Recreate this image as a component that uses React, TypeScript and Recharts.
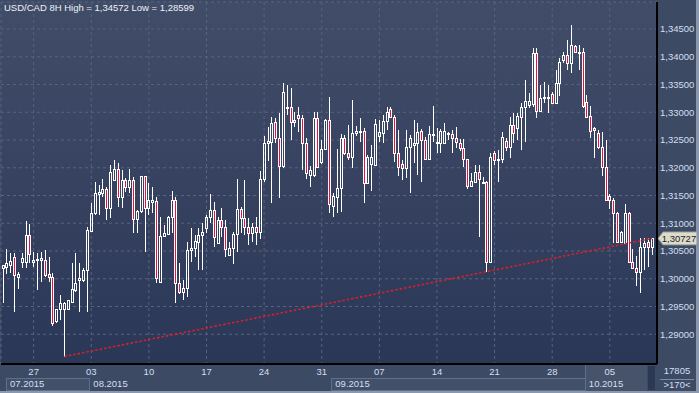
import React from 'react';
import { ComposedChart, Bar, XAxis, YAxis, CartesianGrid, ReferenceLine } from 'recharts';

// ---- data (8H candles, USD/CAD) ----
const opens = [
  1.3020, 1.3022, 1.3024, 1.3040, 1.3004, 1.3031, 1.3031, 1.3079, 1.3031, 1.3033,
  1.3034, 1.3034, 1.3009, 1.3003, 1.2923, 1.2945, 1.2945, 1.2945, 1.2959, 1.2980,
  1.2998, 1.2997, 1.3016, 1.3086, 1.3118, 1.3153, 1.3154, 1.3161, 1.3127, 1.3178,
  1.3197, 1.3148, 1.3178, 1.3165, 1.3178, 1.3107, 1.3122, 1.3185, 1.3127, 1.3139,
  1.3140, 1.2994, 1.3077, 1.3081, 1.3112, 1.3142, 1.2993, 1.2977, 1.2984, 1.3051,
  1.3055, 1.3067, 1.3078, 1.3091, 1.3111, 1.3123, 1.3064, 1.3106, 1.3093, 1.3043,
  1.3055, 1.3080, 1.3125, 1.3109, 1.3094, 1.3083, 1.3093, 1.3085, 1.3179, 1.3244,
  1.3247, 1.3283, 1.3253, 1.3203, 1.3310, 1.3309, 1.3282, 1.3295, 1.3289, 1.3244,
  1.3187, 1.3187, 1.3289, 1.3211, 1.3233, 1.3286, 1.3132, 1.3148, 1.3163, 1.3253,
  1.3226, 1.3219, 1.3263, 1.3265, 1.3266, 1.3172, 1.3207, 1.3205, 1.3257, 1.3263,
  1.3284, 1.3305, 1.3292, 1.3226, 1.3207, 1.3199, 1.3238, 1.3241, 1.3245, 1.3266,
  1.3250, 1.3216, 1.3259, 1.3244, 1.3244, 1.3245, 1.3261, 1.3261, 1.3253, 1.3245,
  1.3235, 1.3215, 1.3168, 1.3175, 1.3192, 1.3175, 1.3174, 1.3031, 1.3227, 1.3214,
  1.3215, 1.3249, 1.3237, 1.3277, 1.3271, 1.3291, 1.3309, 1.3314, 1.3315, 1.3406,
  1.3303, 1.3325, 1.3327, 1.3333, 1.3317, 1.3352, 1.3395, 1.3404, 1.3389, 1.3419,
  1.3408, 1.3408, 1.3318, 1.3293, 1.3271, 1.3262, 1.3238, 1.3202, 1.3149, 1.3142,
  1.3119, 1.3067, 1.3065, 1.3119, 1.3031, 1.3019, 1.3013, 1.3058, 1.3067, 1.3058,
];
const highs = [
  1.3025, 1.3053, 1.3047, 1.3046, 1.3012, 1.3047, 1.3104, 1.3099, 1.3049, 1.3046,
  1.3049, 1.3052, 1.3040, 1.3010, 1.2945, 1.2970, 1.2958, 1.2962, 1.3028, 1.3046,
  1.3028, 1.3019, 1.3094, 1.3136, 1.3175, 1.3169, 1.3179, 1.3166, 1.3205, 1.3214,
  1.3208, 1.3196, 1.3181, 1.3198, 1.3184, 1.3124, 1.3186, 1.3186, 1.3172, 1.3166,
  1.3148, 1.3112, 1.3097, 1.3113, 1.3159, 1.3148, 1.3028, 1.2998, 1.3067, 1.3091,
  1.3079, 1.3091, 1.3100, 1.3115, 1.3153, 1.3139, 1.3112, 1.3127, 1.3106, 1.3067,
  1.3085, 1.3179, 1.3130, 1.3178, 1.3109, 1.3100, 1.3112, 1.3194, 1.3257, 1.3274,
  1.3292, 1.3289, 1.3299, 1.3352, 1.3349, 1.3343, 1.3301, 1.3310, 1.3295, 1.3253,
  1.3203, 1.3301, 1.3301, 1.3250, 1.3287, 1.3328, 1.3155, 1.3233, 1.3261, 1.3259,
  1.3277, 1.3323, 1.3276, 1.3289, 1.3271, 1.3223, 1.3241, 1.3287, 1.3286, 1.3295,
  1.3310, 1.3310, 1.3295, 1.3268, 1.3214, 1.3268, 1.3259, 1.3286, 1.3281, 1.3269,
  1.3256, 1.3275, 1.3311, 1.3271, 1.3269, 1.3281, 1.3265, 1.3268, 1.3274, 1.3251,
  1.3251, 1.3216, 1.3190, 1.3205, 1.3205, 1.3184, 1.3177, 1.3226, 1.3231, 1.3232,
  1.3265, 1.3253, 1.3292, 1.3299, 1.3299, 1.3316, 1.3358, 1.3334, 1.3415, 1.3415,
  1.3349, 1.3355, 1.3349, 1.3337, 1.3377, 1.3397, 1.3409, 1.3430, 1.34572, 1.3422,
  1.3421, 1.3415, 1.3331, 1.3311, 1.3274, 1.3268, 1.3265, 1.3250, 1.3153, 1.3145,
  1.3120, 1.3086, 1.3135, 1.3121, 1.3053, 1.3041, 1.3073, 1.3073, 1.3073, 1.3074,
];
const lows = [
  1.2956, 1.3009, 1.3011, 1.2941, 1.2981, 1.3019, 1.3019, 1.3028, 1.3022, 1.2980,
  1.2995, 1.3004, 1.2995, 1.2914, 1.2920, 1.2926, 1.28599, 1.2944, 1.2957, 1.2977,
  1.2941, 1.2995, 1.2941, 1.3085, 1.3115, 1.3115, 1.3148, 1.3106, 1.3109, 1.3178,
  1.3130, 1.3127, 1.3157, 1.3154, 1.3082, 1.3082, 1.3118, 1.3049, 1.3115, 1.3118,
  1.2992, 1.2993, 1.3076, 1.3080, 1.3082, 1.2956, 1.2973, 1.2962, 1.2968, 1.3031,
  1.3040, 1.3016, 1.3016, 1.3082, 1.3101, 1.3058, 1.3063, 1.3076, 1.3040, 1.3042,
  1.3027, 1.3049, 1.3082, 1.3079, 1.3060, 1.3067, 1.3060, 1.3071, 1.3175, 1.3213,
  1.3136, 1.3244, 1.3145, 1.3199, 1.3295, 1.3250, 1.3274, 1.3265, 1.3196, 1.3179,
  1.3166, 1.3183, 1.3199, 1.3207, 1.3232, 1.3118, 1.3111, 1.3118, 1.3121, 1.3223,
  1.3214, 1.3199, 1.3257, 1.3247, 1.3136, 1.3171, 1.3159, 1.3204, 1.3247, 1.3244,
  1.3268, 1.3289, 1.3211, 1.3185, 1.3178, 1.3181, 1.3155, 1.3208, 1.3187, 1.3175,
  1.3214, 1.3215, 1.3247, 1.3226, 1.3226, 1.3244, 1.3250, 1.3226, 1.3235, 1.3231,
  1.3202, 1.3161, 1.3167, 1.3172, 1.3075, 1.3172, 1.3013, 1.3028, 1.3205, 1.3175,
  1.3209, 1.3231, 1.3218, 1.3244, 1.3250, 1.3232, 1.3247, 1.3307, 1.3309, 1.3290,
  1.3302, 1.3316, 1.3298, 1.3316, 1.3316, 1.3329, 1.3388, 1.3376, 1.3370, 1.3406,
  1.3377, 1.3307, 1.3289, 1.3253, 1.3217, 1.3233, 1.3185, 1.3141, 1.3125, 1.3065,
  1.3064, 1.3066, 1.3064, 1.3028, 1.3017, 1.2987, 1.2974, 1.3015, 1.3022, 1.3043,
];
const closes = [
  1.3024, 1.3028, 1.3032, 1.3006, 1.3009, 1.3038, 1.3079, 1.3044, 1.3034, 1.3036,
  1.3037, 1.3007, 1.3003, 1.2921, 1.2945, 1.2956, 1.2956, 1.2961, 1.2981, 1.2992,
  1.3002, 1.3016, 1.3088, 1.3118, 1.3154, 1.3156, 1.3161, 1.3127, 1.3192, 1.3197,
  1.3148, 1.3178, 1.3165, 1.3178, 1.3107, 1.3122, 1.3185, 1.3127, 1.3142, 1.3142,
  1.3001, 1.3077, 1.3082, 1.3112, 1.3142, 1.2993, 1.2976, 1.2984, 1.3052, 1.3055,
  1.3068, 1.3079, 1.3085, 1.3111, 1.3123, 1.3075, 1.3106, 1.3093, 1.3053, 1.3055,
  1.3081, 1.3125, 1.3109, 1.3094, 1.3083, 1.3093, 1.3085, 1.3179, 1.3244, 1.3248,
  1.3280, 1.3253, 1.3203, 1.3336, 1.3307, 1.3282, 1.3286, 1.3289, 1.3244, 1.3190,
  1.3196, 1.3289, 1.3201, 1.3233, 1.3286, 1.3134, 1.3149, 1.3163, 1.3253, 1.3226,
  1.3219, 1.3263, 1.3266, 1.3266, 1.3172, 1.3219, 1.3219, 1.3279, 1.3264, 1.3285,
  1.3301, 1.3292, 1.3226, 1.3202, 1.3199, 1.3238, 1.3253, 1.3245, 1.3265, 1.3250,
  1.3216, 1.3261, 1.3261, 1.3246, 1.3267, 1.3267, 1.3262, 1.3253, 1.3246, 1.3235,
  1.3215, 1.3168, 1.3177, 1.3192, 1.3179, 1.3174, 1.3031, 1.3220, 1.3214, 1.3215,
  1.3255, 1.3237, 1.3277, 1.3263, 1.3293, 1.3310, 1.3321, 1.3321, 1.3406, 1.3303,
  1.3325, 1.3327, 1.3326, 1.3317, 1.3352, 1.3391, 1.3404, 1.3389, 1.3421, 1.3409,
  1.3409, 1.3312, 1.3292, 1.3267, 1.3268, 1.3237, 1.3202, 1.3142, 1.3142, 1.3119,
  1.3067, 1.3085, 1.3118, 1.3031, 1.3019, 1.3013, 1.3058, 1.3065, 1.3058, 1.30727,
];

const weekTickIndex = [8, 23, 38, 53, 68, 83, 98, 113, 128, 143, 158];
const weekTickLabels = ['27', '03', '10', '17', '24', '31', '07', '14', '21', '28', '05'];
const monthStartIndex = [0, 23, 86, 152];
const monthLabels = ['07.2015', '08.2015', '09.2015', '10.2015'];
const priceTicks = [1.29, 1.295, 1.3, 1.305, 1.31, 1.315, 1.32, 1.325, 1.33, 1.335, 1.34, 1.345];
const priceDomain = [1.28464, 1.34987];

const symbolName = 'USD/CAD 8H';
const periodHigh = 1.34572;
const periodLow = 1.28599;
const lastPrice = 1.30727;
const trendStart = { index: 16, price: 1.28599 };
const trendEnd = { index: 169, price: 1.30727 };
const totalBarsLabel = '17805';
const visibleBarsLabel = '>170<';

const data = opens.map((o, i) => ({
  i,
  open: o,
  high: highs[i],
  low: lows[i],
  close: closes[i],
  range: [lows[i], highs[i]],
}));

// ---- styling ----
const FONT = '"Liberation Sans", Arial, sans-serif';
const TEXT = '#d3dff2';
const PLOT_W = 653; // plot width minus right padding, used for month boxes
const BAND = PLOT_W / opens.length;

const fmt = (v: number) => v.toFixed(5).replace('.', ',');

const Candle = (props: any) => {
  const { x, y, width, height, payload } = props;
  if (x == null || y == null || !payload) return null;
  const top = Math.min(y, y + height);
  const bot = Math.max(y, y + height);
  const { open, close, high, low } = payload;
  const span = high - low || 1;
  const py = (v: number) => top + ((high - v) / span) * (bot - top);
  const c = Math.round(x + width / 2 - 0.5);
  const lx = c + 0.5;
  const bt = Math.round(py(Math.max(open, close)));
  const bb = Math.round(py(Math.min(open, close)));
  const bull = close >= open;
  return (
    <g shapeRendering="crispEdges">
      <line x1={lx} x2={lx} y1={Math.round(top)} y2={bt} stroke="#ffffff" strokeWidth={1} />
      <line x1={lx} x2={lx} y1={bb} y2={Math.round(bot)} stroke="#ffffff" strokeWidth={1} />
      <rect
        x={c - 0.5}
        y={bt + 0.5}
        width={2}
        height={Math.max(bb - bt, 1)}
        fill={bull ? 'none' : '#e8113e'}
        stroke="#ffffff"
        strokeWidth={1}
      />
    </g>
  );
};

const MonthTick = (props: any) => {
  const { x, y, payload } = props;
  const start = payload.value;
  const k = monthStartIndex.indexOf(start);
  if (k < 0) return null;
  const end = k + 1 < monthStartIndex.length ? monthStartIndex[k + 1] : opens.length;
  let left = x - BAND / 2;
  const right = left + (end - start) * BAND;
  if (left < 6) left = 6;
  const isLast = k === monthStartIndex.length - 1;
  const boxed = k % 2 === 0 && !isLast;
  return (
    <g>
      {boxed && (
        <rect
          x={Math.round(left) + 0.5}
          y={y + 0.5}
          width={Math.round(right - left)}
          height={12}
          fill="rgba(255,255,255,0.035)"
          stroke="#5f6e8b"
          shapeRendering="crispEdges"
        />
      )}
      {isLast && (
        <g shapeRendering="crispEdges">
          <rect x={Math.round(left)} y={y - 13} width={Math.round(right - left) - 7} height={26} fill="rgba(255,255,255,0.05)" />
          <line x1={Math.round(left) + 0.5} x2={Math.round(left) + 0.5} y1={y - 13} y2={y + 13} stroke="#5f6e8b" />
          <rect x={Math.round(right) - 6} y={y - 12} width={7} height={24} fill="#2c3955" />
        </g>
      )}
      <text x={left + 4} y={y + 9} fontSize={9.5} fontFamily={FONT} fill={TEXT}>
        {monthLabels[k]}
      </text>
    </g>
  );
};

const PriceTag = (props: any) => {
  const vb = props.viewBox;
  if (!vb) return null;
  const ax = vb.x + vb.width;
  const cy = vb.y;
  return (
    <g>
      <path
        d={`M${ax + 1},${cy} L${ax + 6},${cy - 6.5} H${ax + 40} V${cy + 6.5} H${ax + 6} Z`}
        fill="#dedcc8"
        stroke="#8c919c"
        strokeWidth={1}
      />
      <text x={ax + 22} y={cy + 3.5} textAnchor="middle" fontSize={9.5} fontFamily={FONT} fill="#1a2132">
        {fmt(lastPrice)}
      </text>
    </g>
  );
};

export default function App() {
  return (
    <div
      style={{
        position: 'absolute',
        left: 0,
        top: 0,
        width: 699,
        height: 393,
        background: '#8b97ac',
        overflow: 'hidden',
        fontFamily: FONT,
      }}
    >
      <div style={{ position: 'absolute', left: 0, top: 0, width: 696, height: 391, background: '#3d4a64' }} />
      <div style={{ position: 'absolute', left: 0, top: 0 }}>
        <ComposedChart
          width={699}
          height={393}
          data={data}
          margin={{ top: 2, right: 0, bottom: 0, left: 1 }}
          barCategoryGap={0}
        >
          <defs>
            <linearGradient id="plotBg" x1="0" y1="0" x2="0" y2="1">
              <stop offset="0" stopColor="#414d68" />
              <stop offset="1" stopColor="#2b3757" />
            </linearGradient>
          </defs>
          <CartesianGrid
            xAxisId="day"
            yAxisId="price"
            fill="url(#plotBg)"
            fillOpacity={1}
            stroke="#56647f"
            strokeDasharray="3 3"
          />
          <XAxis
            xAxisId="day"
            dataKey="i"
            type="category"
            ticks={weekTickIndex}
            interval={0}
            tickFormatter={(v: any) => weekTickLabels[weekTickIndex.indexOf(v)] ?? ''}
            axisLine={{ stroke: '#000000', strokeWidth: 2 }}
            tickLine={false}
            tickSize={0}
            tickMargin={4}
            height={14}
            padding={{ left: 0, right: 3 }}
            tick={{ fill: TEXT, fontSize: 9.5, fontFamily: FONT }}
          />
          <XAxis
            xAxisId="month"
            dataKey="i"
            type="category"
            ticks={monthStartIndex}
            interval={0}
            axisLine={false}
            tickLine={false}
            tickSize={0}
            tickMargin={0}
            height={15}
            padding={{ left: 0, right: 3 }}
            tick={<MonthTick />}
          />
          <YAxis
            yAxisId="price"
            orientation="right"
            type="number"
            width={42}
            domain={priceDomain}
            allowDataOverflow
            ticks={priceTicks}
            interval={0}
            tickFormatter={fmt}
            axisLine={{ stroke: '#000000', strokeWidth: 2 }}
            tickLine={false}
            tickSize={0}
            tickMargin={3}
            tick={{ fill: TEXT, fontSize: 9.5, fontFamily: FONT, textAnchor: 'start' }}
          />
          <ReferenceLine
            xAxisId="day"
            yAxisId="price"
            segment={[
              { x: trendStart.index, y: trendStart.price },
              { x: trendEnd.index, y: trendEnd.price },
            ]}
            stroke="#d8202d"
            strokeWidth={1.6}
            strokeDasharray="2.5 2"
          />
          <Bar xAxisId="day" yAxisId="price" dataKey="range" shape={Candle} isAnimationActive={false} />
          <ReferenceLine
            xAxisId="day"
            yAxisId="price"
            y={lastPrice}
            stroke="none"
            strokeOpacity={0}
            ifOverflow="visible"
            label={(p: any) => <PriceTag {...p} />}
          />
        </ComposedChart>
      </div>
      <svg width={699} height={393} style={{ position: 'absolute', left: 0, top: 0, pointerEvents: 'none' }}>
        <text x={4} y={11} fontSize={9.5} fontFamily={FONT} fill="#eef2f8">
          {`${symbolName} High = ${fmt(periodHigh)} Low = ${fmt(periodLow)}`}
        </text>
        <text x={677} y={374} textAnchor="middle" fontSize={9.5} fontFamily={FONT} fill={TEXT}>
          {totalBarsLabel}
        </text>
        <line x1={660} x2={694} y1={379.5} y2={379.5} stroke="#7c8aa3" strokeWidth={1} />
        <text x={677} y={388} textAnchor="middle" fontSize={9.5} fontFamily={FONT} fill={TEXT}>
          {visibleBarsLabel}
        </text>
      </svg>
    </div>
  );
}
